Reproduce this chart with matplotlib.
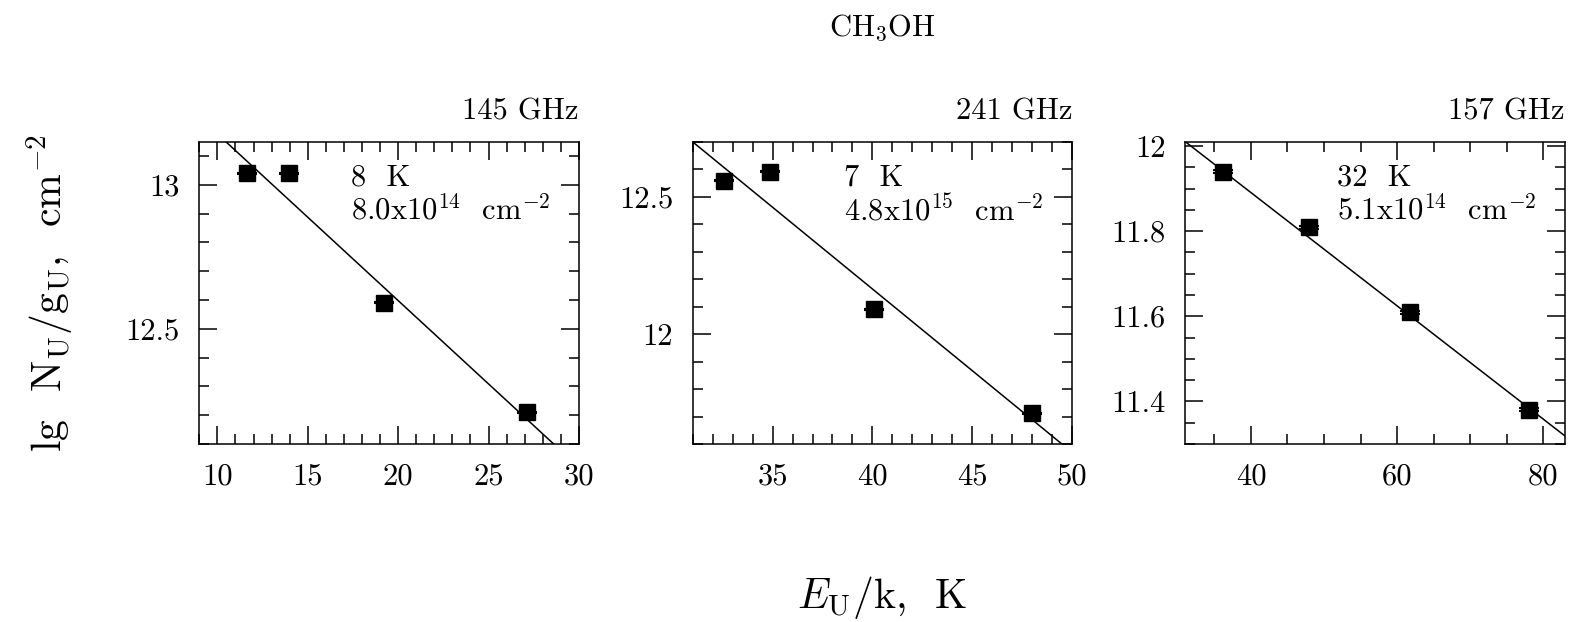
import matplotlib
matplotlib.use('Agg')
import matplotlib.pyplot as plt
from matplotlib.ticker import MultipleLocator, FormatStrFormatter

plt.rcParams['font.family'] = 'serif'
plt.rcParams['font.serif'] = ['cmr10', 'DejaVu Serif']
plt.rcParams['mathtext.fontset'] = 'cm'
plt.rcParams['axes.unicode_minus'] = False
plt.rcParams['axes.formatter.use_mathtext'] = True

# values
freqs = ['145 GHz', '241 GHz', '157 GHz']
notes = ['8  K\n8.0x10$^{14}$  cm$^{-2}$',
         '7  K\n4.8x10$^{15}$  cm$^{-2}$',
         '32  K\n5.1x10$^{14}$  cm$^{-2}$']

eu1 = [11.65, 13.95, 19.19, 27.1]
lg1 = [13.04, 13.04, 12.59, 12.21]
err1 = [0.002, 0.002, 0.002, 0.002]
fit1 = (13.756, -0.0579)   # intercept, slope

eu2 = [32.55, 34.88, 40.08, 48.0]
lg2 = [12.558, 12.59, 12.09, 11.712]
err2 = [0.002, 0.002, 0.002, 0.002]
fit2 = (14.544, -0.0595)

eu3 = [36.19, 47.88, 61.78, 78.14]
lg3 = [11.939, 11.809, 11.609, 11.38]
err3 = [0.0035, 0.0035, 0.0035, 0.0035]
fit3 = (12.422, -0.01329)

xlims = [(9, 30), (31, 50), (31, 83)]
ylims = [(12.1, 13.15), (11.6, 12.7), (11.3, 12.01)]
xsteps = [(5, 1), (5, 1), (20, 5)]
ysteps = [(0.5, 0.1), (0.5, 0.1), (0.2, 0.05)]

fs = 22

fig = plt.figure(figsize=(15.72, 6.22), dpi=100)
lefts = [0.1268, 0.4406, 0.754]

panels = [(eu1, lg1, err1, fit1), (eu2, lg2, err2, fit2), (eu3, lg3, err3, fit3)]
for i, (x, y, e, fit) in enumerate(panels):
    ax = fig.add_axes([lefts[i], 0.2862, 0.2415, 0.486])
    ax.errorbar(x, y, yerr=e, fmt='s', color='k', ms=11, capsize=7.5,
                elinewidth=1.2, capthick=1.5)
    xl = xlims[i]
    ax.plot(xl, [fit[0] + fit[1] * xl[0], fit[0] + fit[1] * xl[1]], 'k-', lw=1.1)
    ax.set_xlim(xl)
    ax.set_ylim(ylims[i])
    ax.xaxis.set_major_locator(MultipleLocator(xsteps[i][0]))
    ax.xaxis.set_minor_locator(MultipleLocator(xsteps[i][1]))
    ax.yaxis.set_major_locator(MultipleLocator(ysteps[i][0]))
    ax.yaxis.set_minor_locator(MultipleLocator(ysteps[i][1]))
    ax.xaxis.set_major_formatter(FormatStrFormatter('%g'))
    ax.yaxis.set_major_formatter(FormatStrFormatter('%g'))
    ax.tick_params(which='both', direction='in', top=True, right=True, width=1.1)
    ax.tick_params(which='major', length=13, labelsize=fs)
    ax.tick_params(which='minor', length=7)
    ax.tick_params(axis='x', pad=14)
    ax.tick_params(axis='y', pad=14)
    for s in ax.spines.values():
        s.set_linewidth(1.1)
    ax.set_title(freqs[i], loc='right', fontsize=fs, pad=16)
    ax.text(0.40, 0.925, notes[i], transform=ax.transAxes, fontsize=fs,
            va='top', ha='left', linespacing=1.1)

fig.text(0.561, 0.955, 'CH$_3$OH', ha='center', va='center', fontsize=fs)
fig.text(0.561, 0.040, r'$E_{\rm U}$/k,  K', ha='center', va='center', fontsize=30)
fig.text(0.032, 0.529, r'lg  N$_{\rm U}$/g$_{\rm U}$,  cm$^{-2}$', ha='center',
         va='center', rotation=90, fontsize=30)

fig.savefig('out.png', dpi=100)
